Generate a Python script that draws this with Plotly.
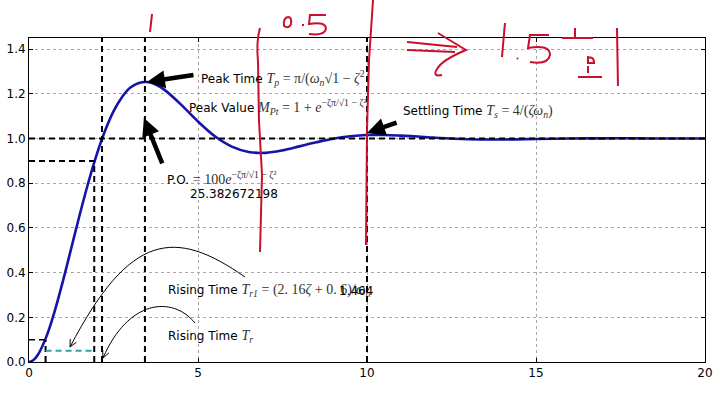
import math
import plotly.graph_objects as go

# ---- data ----
t_vals = [0, 0.125, 0.25, 0.5, 0.75, 1.0, 1.25, 1.5, 1.75, 2.0, 2.25, 2.5, 2.75, 3.0,
          3.25, 3.5, 3.75, 4.0, 4.5, 5.0, 5.5, 6.0, 6.5, 7.0, 7.5, 8.0, 8.5, 9.0,
          9.5, 10, 10.5, 11, 11.5, 12, 13, 14, 15, 16, 17, 18, 19, 20]
y_vals = [0, 0.008, 0.029, 0.108, 0.222, 0.360, 0.509, 0.659, 0.800, 0.927, 1.035,
          1.122, 1.185, 1.228, 1.249, 1.253, 1.242, 1.219, 1.152, 1.076, 1.010,
          0.964, 0.940, 0.936, 0.947, 0.965, 0.983, 0.999, 1.010, 1.016, 1.016,
          1.013, 1.009, 1.004, 0.997, 0.996, 0.998, 1.000, 1.001, 1.001, 1.000, 1.000]

t10, t90, t100, t_peak, t_settle = 0.49, 1.93, 2.16, 3.43, 10.0
lvl10, lvl90, lvl100, lvl_mid = 0.1, 0.9, 1.0, 0.05
y_top = 1.45
x_ticks = [0, 5, 10, 15, 20]
y_ticks = [0.0, 0.2, 0.4, 0.6, 0.8, 1.0, 1.2, 1.4]
po_value = "25.382672198"
tr1_value = "1.464"

# ---- layout geometry ----
W, H = 720, 393
ML, MR, MT, MB = 29, 15, 38, 31
PW, PH = W - ML - MR, H - MT - MB


def px(x):
    return (x - ML) / PW


def py(y):
    return (H - MB - y) / PH


def path_from(cmds):
    out = []
    for c in cmds:
        if isinstance(c, str):
            out.append(c)
        else:
            out.append(f"{px(c[0]):.4f},{py(c[1]):.4f}")
    return " ".join(out)


fig = go.Figure()

# main response curve
fig.add_trace(go.Scatter(x=t_vals, y=y_vals, mode="lines", line=dict(color="#1414aa", width=2.6, shape="spline"),
                         hoverinfo="skip", showlegend=False))

dash = "6px,4px"
blk = dict(color="black", width=2, dash=dash)
# vertical dashed lines
fig.add_trace(go.Scatter(x=[t10, t10], y=[0, lvl10], mode="lines", line=blk, showlegend=False))
fig.add_trace(go.Scatter(x=[t90, t90], y=[0, lvl90], mode="lines", line=blk, showlegend=False))
fig.add_trace(go.Scatter(x=[t100, t100], y=[0, y_top], mode="lines", line=blk, showlegend=False))
fig.add_trace(go.Scatter(x=[t_peak, t_peak], y=[0, y_top], mode="lines", line=blk, showlegend=False))
fig.add_trace(go.Scatter(x=[t_settle, t_settle], y=[0, y_top], mode="lines", line=blk, showlegend=False))
# horizontal dashed lines
fig.add_trace(go.Scatter(x=[0, 20], y=[lvl100, lvl100], mode="lines", line=blk, showlegend=False))
fig.add_trace(go.Scatter(x=[0, t90], y=[lvl90, lvl90], mode="lines", line=blk, showlegend=False))
fig.add_trace(go.Scatter(x=[0, t10], y=[lvl10, lvl10], mode="lines", line=dict(color="black", width=1.5, dash=dash), showlegend=False))
fig.add_trace(go.Scatter(x=[t10, t90], y=[lvl_mid, lvl_mid], mode="lines",
                         line=dict(color="#2aa8a0", width=2, dash=dash), showlegend=False))

serif = "font-family:'Liberation Serif',serif;font-size:14px;color:#333"


def sm(s):
    return f"<span style=\"{serif}\">{s}</span>"


texts = [
    (5.03, 1.272, "Peak Time " + sm("<i>T<sub>p</sub></i> = π/(<i>ω<sub>n</sub></i>√1 − <i>ζ</i><sup>2</sup>")),
    (4.67, 1.141, "Peak Value " + sm("<i>M<sub>Pt</sub></i> = 1 + <i>e</i><sup>−ζπ/√1 − ζ²</sup>")),
    (4.02, 0.824, "P.O. " + sm("= 100<i>e</i><sup>−ζπ/√1 − ζ²</sup>")),
    (4.70, 0.752, po_value),
    (11.0, 1.119, "Settling Time " + sm("<i>T<sub>s</sub></i> = 4/(<i>ζω<sub>n</sub></i>)")),
    (4.05, 0.318, "Rising Time " + sm("<i>T<sub>r1</sub></i> = (2. 16<i>ζ</i> + 0. 6)/<i>ω<sub>n</sub></i>")),
    (9.11, 0.318, tr1_value),
    (4.05, 0.116, "Rising Time " + sm("<i>T<sub>r</sub></i>")),
]
for x, y, s in texts:
    fig.add_annotation(x=x, y=y, text=s, showarrow=False, xanchor="left", yanchor="middle",
                       font=dict(family="DejaVu Sans", size=12, color="black"))

# thick arrows (tip, tail)
arrows = [((3.49, 1.253), (4.91, 1.285)),
          ((3.40, 1.092), (3.96, 0.882)),
          ((10.0, 1.025), (10.92, 1.074))]
for (x, y), (ax, ay) in arrows:
    fig.add_annotation(x=x, y=y, ax=ax, ay=ay, axref="x", ayref="y", text="", showarrow=True,
                       arrowhead=2, arrowwidth=4.5, arrowsize=0.8, arrowcolor="black", standoff=0)

shapes = []
# thin curved arrows (pixel geometry, cubic beziers)
for p0, c1, c2, p3 in [((245, 277), (175, 228), (130, 232), (70, 347)),
                       ((195, 323), (172, 295), (128, 300), (103, 358))]:
    dx, dy = p3[0] - c2[0], p3[1] - c2[1]
    L = math.hypot(dx, dy)
    ux, uy = dx / L, dy / L
    hl = 8
    heads = []
    for ang in (0.45, -0.45):
        ca, sa = math.cos(ang), math.sin(ang)
        bx = -(ux * ca - uy * sa)
        by = -(ux * sa + uy * ca)
        heads.append((p3[0] + hl * bx, p3[1] + hl * by))
    path = path_from(["M", p0, "C", c1, c2, p3, "M", heads[0], "L", p3, "L", heads[1]])
    shapes.append(dict(type="path", path=path, xref="paper", yref="paper",
                       line=dict(color="black", width=1)))

# red handwriting
red_paths = [
    ["M", (152, 14), "L", (150, 32)],
    ["M", (260, 28), "Q", (256, 42), (258, 62), "L", (259, 120), "L", (262, 175), "L", (260, 252)],
    ["M", (288, 17), "Q", (283, 18), (284, 26), "Q", (289, 29), (291, 24), "Q", (292, 17), (288, 17)],
    ["M", (303, 24), "L", (303, 26)],
    ["M", (326, 15), "L", (310, 15), "L", (309, 24), "Q", (326, 21), (326, 29), "Q", (324, 36), (309, 34)],
    ["M", (373, 0), "L", (369, 60), "L", (367, 130), "L", (366, 245)],
    ["M", (407, 42), "L", (457, 47)],
    ["M", (407, 50), "L", (455, 52)],
    ["M", (438, 33), "L", (466, 50), "Q", (442, 60), (437, 69), "Q", (432, 77), (442, 75)],
    ["M", (505, 23), "L", (502, 57)],
    ["M", (517, 58), "L", (518, 59)],
    ["M", (549, 35), "L", (530, 35), "L", (528, 48), "Q", (550, 44), (550, 55), "Q", (548, 65), (530, 62)],
    ["M", (562, 38), "L", (593, 38)],
    ["M", (575, 28), "L", (575, 38)],
    ["M", (588, 56), "L", (588, 63), "L", (594, 63), "Q", (594, 56), (588, 58)],
    ["M", (588, 66), "L", (588, 73)],
    ["M", (578, 77), "L", (602, 77)],
    ["M", (617, 28), "L", (618, 86)],
]
for p in red_paths:
    shapes.append(dict(type="path", path=path_from(p), xref="paper", yref="paper",
                       line=dict(color="#c8102e", width=2)))

fig.update_layout(
    width=W, height=H, margin=dict(l=ML, r=MR, t=MT, b=MB, autoexpand=False),
    plot_bgcolor="white", paper_bgcolor="white", showlegend=False,
    shapes=shapes,
    font=dict(family="DejaVu Sans", size=12, color="black"),
)
fig.update_xaxes(range=[0, 20], tickvals=x_ticks, ticktext=[str(v) for v in x_ticks],
                 showgrid=True, gridcolor="#a8a8a8", griddash="dot", gridwidth=1,
                 showline=True, linecolor="black", linewidth=1, mirror="ticks",
                 ticks="inside", ticklen=4, tickcolor="black", zeroline=False, automargin=False,
                 tickfont=dict(family="DejaVu Sans", size=12))
fig.update_yaxes(range=[0, y_top], tickvals=y_ticks, ticktext=[f"{v:.1f}" for v in y_ticks],
                 showgrid=True, gridcolor="#a8a8a8", griddash="dot", gridwidth=1,
                 showline=True, linecolor="black", linewidth=1, mirror="ticks",
                 ticks="inside", ticklen=4, tickcolor="black", zeroline=False, automargin=False,
                 tickfont=dict(family="DejaVu Sans", size=12))

fig.write_html("out.html", config={"displayModeBar": False},
               post_script="document.body.style.margin='0';document.body.style.padding='0';"
                           "document.documentElement.style.overflow='hidden';")
